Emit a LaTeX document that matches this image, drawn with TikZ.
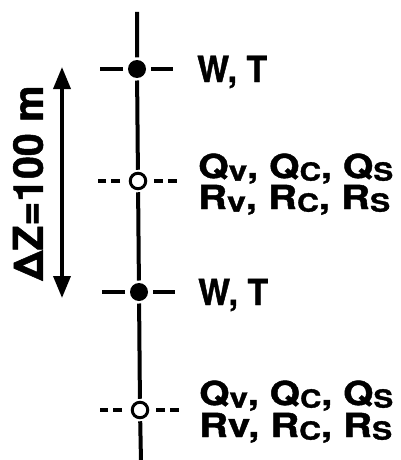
\documentclass[tikz,border=0pt]{standalone}
\usepackage{fontspec}
\usepackage{graphicx}
\setmainfont[BoldFeatures={FakeBold=1.2}]{TeX Gyre Heros}
\usetikzlibrary{arrows.meta}
\newcommand\sbs[1]{\raisebox{-0.08em}{\fontsize{25}{25}\selectfont #1}}
\newcommand\sbv{\raisebox{-0.08em}{\fontsize{28}{28}\selectfont v}}
\newcommand\wline[2]{\resizebox{#1}{\height}{#2}}
\begin{document}
\begin{tikzpicture}[x=1pt,y=-1pt,
  vline/.style={line width=4pt},
  fdot/.style={circle,fill=black,inner sep=0pt,minimum size=18pt,outer sep=2.5pt},
  odot/.style={circle,draw=black,line width=3pt,fill=white,inner sep=0pt,minimum size=15.5pt,outer sep=3.5pt},
  soliddash/.style={line width=3.6pt},
  dotdash/.style={line width=3.6pt,dash pattern=on 9pt off 5pt},
  wlbl/.style={font=\bfseries\fontsize{36}{40}\selectfont,inner sep=0pt,anchor=base west,text height=26pt,text depth=0pt},
  lbl/.style={font=\bfseries\fontsize{33}{36}\selectfont,inner sep=0pt,anchor=base west,text height=24pt,text depth=0pt},
  biglbl/.style={font=\bfseries\fontsize{41}{44}\selectfont,inner sep=0pt,rotate=90},
  arr/.style={line width=3.6pt,{Triangle[width=17pt,length=22pt]}-{Triangle[width=17pt,length=22pt]}}
]
\useasboundingbox (0,0) rectangle (401,460);
\coordinate (top) at (137,12);
\coordinate (bot) at (141,462);
\node[fdot] (w1) at (137,69) {};
\node[odot] (q1) at (138,181) {};
\node[fdot] (w2) at (139,292) {};
\node[odot] (q2) at (140,410) {};
\draw[vline] (top) -- (w1) -- (q1) -- (w2) -- (q2) -- (bot);
% horizontal marks
\draw[soliddash] (w1.center) ++(-14,0) -- ++(-23,0);
\draw[soliddash] (w1.center) ++(14,0) -- ++(22,0);
\draw[soliddash] (w2.center) ++(-14,0) -- ++(-23,0);
\draw[soliddash] (w2.center) ++(14,0) -- ++(22,0);
\draw[dotdash] (q1.center) ++(-18,0) -- ++(-22,0);
\draw[dotdash] (q1.center) ++(16,0) -- ++(23,0);
\draw[dotdash] (q2.center) ++(-18,0) -- ++(-22,0);
\draw[dotdash] (q2.center) ++(16,0) -- ++(23,0);
% labels
\node[wlbl] (t1) at (197,82) {\wline{70pt}{W, T}};
\node[lbl] (qa) at (198,178) {\wline{195pt}{Q\sbv, Q\sbs{C}, Q\sbs{S}}};
\node[lbl] (ra) at (198,209) {\wline{192pt}{R\sbv, R\sbs{C}, R\sbs{S}}};
\node[wlbl] (t2) at (198,305) {\wline{70pt}{W, T}};
\node[lbl] (qb) at (199,405) {\wline{194pt}{Q\sbv, Q\sbs{C}, Q\sbs{S}}};
\node[lbl] (rb) at (199,437) {\wline{193pt}{Rv, R\sbs{C}, R\sbs{S}}};
% delta z arrow
\coordinate (atop) at (62,67);
\coordinate (abot) at (62,298);
\draw[arr] (abot) -- (atop);
\node[biglbl] (dz) at (28,183) {ΔZ=100 m};
\end{tikzpicture}
\end{document}
